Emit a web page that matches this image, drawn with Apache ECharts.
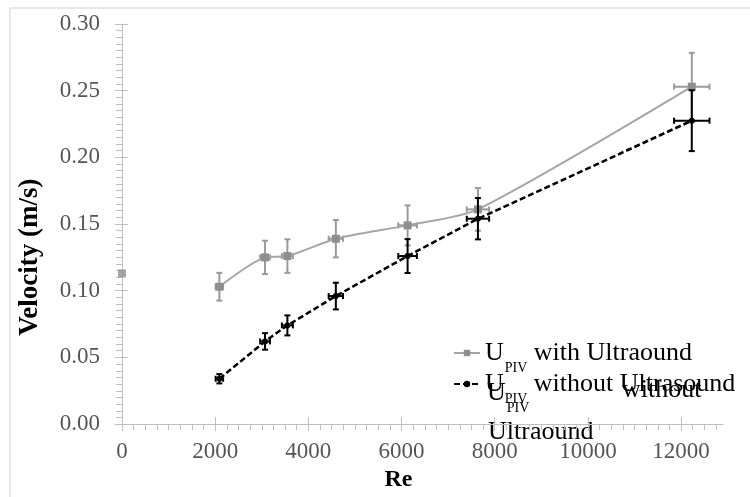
<!DOCTYPE html>
<html>
<head>
<meta charset="utf-8">
<script src="https://cdn.jsdelivr.net/npm/echarts@6/dist/echarts.min.js"></script>
<style>
  html, body { margin: 0; padding: 0; background: #fff; }
  #chart { width: 750px; height: 497px; }
</style>
</head>
<body>
<div id="chart"></div>
<script>
// values
var reynolds = [2090, 3070, 3550, 4590, 6130, 7640, 12230];
var reynoldsErr = [80, 105, 118, 154, 200, 240, 380];
var withUltrasound = [0.103, 0.125, 0.126, 0.139, 0.149, 0.161, 0.253];
var withUltrasoundErr = [0.0104, 0.0125, 0.0126, 0.014, 0.015, 0.016, 0.0254];
var withoutUltrasound = [0.034, 0.062, 0.074, 0.096, 0.126, 0.154, 0.2275];
var withoutUltrasoundErr = [0.0035, 0.0062, 0.0075, 0.010, 0.0127, 0.0155, 0.0228];
var zeroPoint = [0, 0.113];
var xTicks = [0, 2000, 4000, 6000, 8000, 10000, 12000];

var font = 'Liberation Serif';
var grayLine = '#a6a6a6';
var grayMark = '#8e8e8e';

function pairs(ys) {
  return reynolds.map(function (x, i) { return [x, ys[i]]; });
}
function withErr(ys, errs) {
  return reynolds.map(function (x, i) { return [x, ys[i], errs[i], reynoldsErr[i]]; });
}

// error bars drawn through the axes' own scales
function errorBars(color) {
  return function (params, api) {
    var x = api.value(0), y = api.value(1), ey = api.value(2), ex = api.value(3);
    var c = api.coord([x, y]);
    var top = api.coord([x, y + ey])[1];
    var bot = api.coord([x, y - ey])[1];
    var l = api.coord([x - ex, y])[0];
    var r = api.coord([x + ex, y])[0];
    var cap = 3;
    var st = { stroke: color, lineWidth: 2 };
    return {
      type: 'group',
      children: [
        { type: 'line', shape: { x1: c[0], y1: top, x2: c[0], y2: bot }, style: st },
        { type: 'line', shape: { x1: c[0] - cap, y1: top, x2: c[0] + cap, y2: top }, style: st },
        { type: 'line', shape: { x1: c[0] - cap, y1: bot, x2: c[0] + cap, y2: bot }, style: st },
        { type: 'line', shape: { x1: l, y1: c[1], x2: r, y2: c[1] }, style: st },
        { type: 'line', shape: { x1: l, y1: c[1] - cap, x2: l, y2: c[1] + cap }, style: st },
        { type: 'line', shape: { x1: r, y1: c[1] - cap, x2: r, y2: c[1] + cap }, style: st }
      ]
    };
  };
}

var legendText = {
  fontFamily: font, fontSize: 26, color: '#000',
  rich: { sub: { fontFamily: font, fontSize: 14, color: '#000', padding: [30, 0, 0, 1] } }
};

var axisGray = '#bfbfbf';

var myChart = echarts.init(document.getElementById('chart'));
myChart.setOption({
  animation: false,
  grid: { left: 122, right: 27, top: 24, bottom: 70 },
  graphic: [
    { type: 'rect', shape: { x: 10, y: 8, width: 760, height: 510 },
      style: { fill: 'none', stroke: '#d0d0d0', lineWidth: 1 }, silent: true },
    // the third, overlapping legend text of the original
    { type: 'text', x: 487, y: 393, style: { text: 'U{sub|PIV}', fontFamily: font, fontSize: 26,
      fill: '#000', verticalAlign: 'middle', rich: legendText.rich } },
    { type: 'text', x: 622, y: 390, style: { text: 'without', fontFamily: font, fontSize: 26,
      fill: '#000', verticalAlign: 'middle' } },
    { type: 'text', x: 488, y: 432, style: { text: 'Ultraound', fontFamily: font, fontSize: 26,
      fill: '#000', verticalAlign: 'middle' } }
  ],
  legend: [
    {
      data: ['with'], left: 453, top: 340, padding: 0, itemWidth: 26, itemHeight: 8,
      formatter: function () { return 'U{sub|PIV} with Ultraound'; },
      textStyle: legendText
    },
    {
      data: ['without'], left: 453, top: 371, padding: 0, itemWidth: 26, itemHeight: 8,
      formatter: function () { return 'U{sub|PIV} without Ultrasound'; },
      textStyle: legendText
    }
  ],
  xAxis: [
    {
      type: 'value', min: 0, max: 12900, interval: 2000,
      name: 'Re', nameLocation: 'middle', nameGap: 41,
      nameTextStyle: { fontFamily: font, fontSize: 24, fontWeight: 'bold', color: '#000', padding: [0, 48, 0, 0] },
      axisLine: { lineStyle: { color: axisGray } },
      axisTick: { length: 7, lineStyle: { color: axisGray }, customValues: xTicks },
      minorTick: { show: true, splitNumber: 8, length: 6, lineStyle: { color: axisGray } },
      axisLabel: { fontFamily: font, fontSize: 23, color: '#555', margin: 16, customValues: xTicks,
        formatter: function (v) { return String(v); } },
      splitLine: { show: false }
    },
    {
      type: 'value', position: 'bottom', min: 0, max: 12900, interval: 2000,
      axisLine: { show: false },
      axisTick: { inside: true, length: 7, lineStyle: { color: axisGray }, customValues: xTicks },
      axisLabel: { show: false },
      splitLine: { show: false }
    }
  ],
  yAxis: [
    {
      type: 'value', min: 0, max: 0.3, interval: 0.05,
      name: 'Velocity (m/s)', nameLocation: 'middle', nameGap: 78,
      nameTextStyle: { fontFamily: font, fontSize: 27, fontWeight: 'bold', color: '#000', padding: [0, 66, 0, 0] },
      axisLine: { show: true, lineStyle: { color: axisGray } },
      axisTick: { show: true, length: 7, lineStyle: { color: axisGray } },
      minorTick: { show: true, splitNumber: 10, length: 6, lineStyle: { color: axisGray } },
      axisLabel: { fontFamily: font, fontSize: 23, color: '#555', margin: 22,
        formatter: function (v) { return v.toFixed(2); } },
      splitLine: { show: false }
    },
    {
      type: 'value', position: 'left', min: 0, max: 0.3, interval: 0.05,
      axisLine: { show: false },
      axisTick: { show: true, inside: true, length: 6, lineStyle: { color: axisGray } },
      axisLabel: { show: false },
      splitLine: { show: false }
    }
  ],
  series: [
    {
      name: 'with', type: 'line', smooth: 0.25, data: pairs(withUltrasound),
      symbol: 'rect', symbolSize: 8,
      lineStyle: { color: grayLine, width: 2 },
      itemStyle: { color: grayMark }, z: 3
    },
    {
      name: 'zero', type: 'scatter', data: [zeroPoint],
      symbol: 'rect', symbolSize: 8, itemStyle: { color: grayMark }
    },
    {
      type: 'custom', renderItem: errorBars('#9a9a9a'), data: withErr(withUltrasound, withUltrasoundErr), z: 3
    },
    {
      name: 'without', type: 'line', data: pairs(withoutUltrasound),
      symbol: 'circle', symbolSize: 6,
      lineStyle: { color: '#000', width: 2.5, type: [6, 3] },
      itemStyle: { color: '#000' }, z: 4
    },
    {
      type: 'custom', renderItem: errorBars('#000'), data: withErr(withoutUltrasound, withoutUltrasoundErr), z: 4
    }
  ]
});
</script>
</body>
</html>
